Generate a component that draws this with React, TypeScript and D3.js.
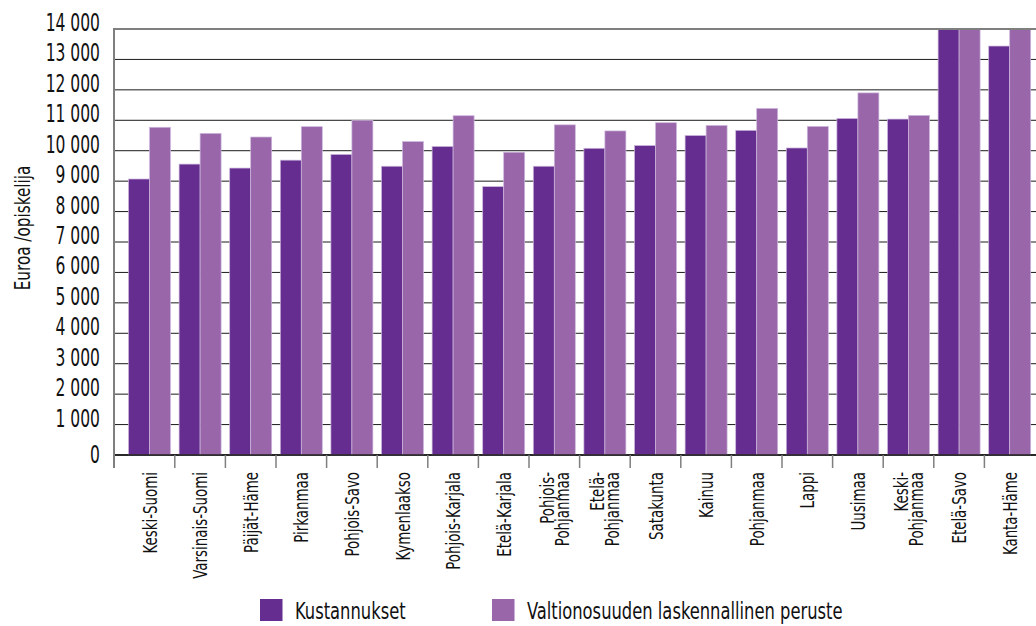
import React from "react";
import * as d3 from "d3";

const categories: string[][] = [
  ["Keski-Suomi"],
  ["Varsinais-Suomi"],
  ["Päijät-Häme"],
  ["Pirkanmaa"],
  ["Pohjois-Savo"],
  ["Kymenlaakso"],
  ["Pohjois-Karjala"],
  ["Etelä-Karjala"],
  ["Pohjois-", "Pohjanmaa"],
  ["Etelä-", "Pohjanmaa"],
  ["Satakunta"],
  ["Kainuu"],
  ["Pohjanmaa"],
  ["Lappi"],
  ["Uusimaa"],
  ["Keski-", "Pohjanmaa"],
  ["Etelä-Savo"],
  ["Kanta-Häme"],
];

const kustannukset = [
  9070, 9560, 9430, 9690, 9880, 9490, 10140, 8820, 9490, 10080, 10170, 10500,
  10670, 10090, 11060, 11040, 14700, 13440,
];
const peruste = [
  10770, 10570, 10450, 10790, 11000, 10300, 11150, 9950, 10850, 10650, 10920,
  10830, 11390, 10800, 11900, 11160, 14900, 14300,
];

const seriesNames = ["Kustannukset", "Valtionosuuden laskennallinen peruste"];
const seriesColors = ["#652d90", "#9966aa"];
const yTicks = [0, 1000, 2000, 3000, 4000, 5000, 6000, 7000, 8000, 9000, 10000, 11000, 12000, 13000, 14000];
const yLabel = "Euroa /opiskelija";

const FONT = "'DejaVu Sans Condensed', 'DejaVu Sans', sans-serif";

export default function App() {
  const W = 1036;
  const H = 626;
  const axisX = 114;
  const keys = categories.map((c) => c.join(""));
  const x0 = d3
    .scaleBand<string>()
    .domain(keys)
    .range([124.2, 1035])
    .paddingInner(0.17)
    .paddingOuter(0.085);
  const x1 = d3.scaleBand<number>().domain([0, 1]).range([0, x0.bandwidth()]);
  const y = d3.scaleLinear().domain([0, 14000]).range([455, 29]).clamp(true);
  const step = x0.step();
  const fmt = (v: number) => d3.format(",")(v).replace(/,/g, " ");
  const series = [kustannukset, peruste];

  return (
    <svg
      width={W}
      height={H}
      style={{ position: "absolute", left: 0, top: 0, background: "#fff" }}
      fontFamily={FONT}
    >
      {yTicks.map((t) => (
        <line
          key={"g" + t}
          x1={axisX}
          x2={W}
          y1={y(t)}
          y2={y(t)}
          stroke={t === 14000 ? "#7f7f7f" : "#1a1a1a"}
          strokeWidth={t === 14000 ? 2 : t === 0 ? 1.5 : 1}
        />
      ))}
      {keys.map((k, i) => (
        <g key={k} transform={`translate(${x0(k)},0)`}>
          {series.map((s, j) => (
            <rect
              key={j}
              x={x1(j)}
              y={y(s[i])}
              width={x1.bandwidth()}
              height={y(0) - y(s[i])}
              fill={seriesColors[j]}
              stroke="#cdb8dc"
              strokeWidth={0.7}
            />
          ))}
        </g>
      ))}
      <line x1={axisX} x2={W} y1={y(0)} y2={y(0)} stroke="#1a1a1a" strokeWidth={1.5} />
      <line x1={axisX} x2={W} y1={y(14000)} y2={y(14000)} stroke="#7f7f7f" strokeWidth={2} />
      <line x1={axisX} x2={axisX} y1={y(14000) - 1} y2={468} stroke="#7f7f7f" strokeWidth={2} />
      {keys.slice(1).map((k) => {
        const bx = (x0(k) as number) - (step * 0.17) / 2;
        return <line key={"t" + k} x1={bx} x2={bx} y1={y(0)} y2={468} stroke="#7f7f7f" strokeWidth={1.5} />;
      })}
      {yTicks.map((t) => (
        <text
          key={"l" + t}
          transform={`translate(100,${y(t) + (t === 0 ? 0 : 2)}) scale(0.72,1)`}
          textAnchor="end"
          dy={t === 0 ? "0.35em" : 0}
          fontSize={24}
          fill="#111"
        >
          {fmt(t)}
        </text>
      ))}
      <text
        transform={`translate(22,228) rotate(-90) scale(0.77,1)`}
        textAnchor="middle"
        dy="0.35em"
        fontSize={22}
        fill="#111"
      >
        {yLabel}
      </text>
      {categories.map((lines, i) => {
        const cx = (x0(keys[i]) as number) + x0.bandwidth() / 2;
        const n = lines.length;
        return lines.map((ln, li) => {
          const off = (li - (n - 1) / 2) * 15;
          return (
            <text
              key={keys[i] + li}
              transform={`translate(${cx + off},472) rotate(-90) scale(0.745,1)`}
              textAnchor="end"
              dy="0.35em"
              fontSize={20}
              fill="#111"
            >
              {ln}
            </text>
          );
        });
      })}
      {[260, 492].map((lx, j) => (
        <g key={"lg" + j}>
          <rect x={lx} y={599} width={22.5} height={22} fill={seriesColors[j]} />
          <text transform={`translate(${lx + 35},619) scale(0.79,1)`} fontSize={23} fill="#111">
            {seriesNames[j]}
          </text>
        </g>
      ))}
    </svg>
  );
}
